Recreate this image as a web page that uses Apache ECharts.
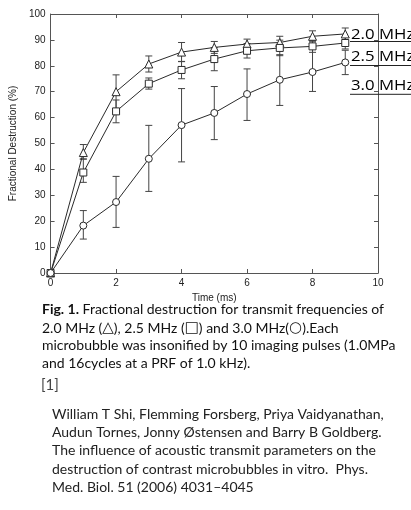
<!DOCTYPE html>
<html><head><meta charset="utf-8">
<script src="https://cdn.jsdelivr.net/npm/echarts@6/dist/echarts.min.js"></script>
<style>html,body{margin:0;padding:0;background:#fff}#c{width:411px;height:510px}</style>
</head><body><div id="c"></div>
<script>
const times = [0,1,2,3,4,5,6,7,8,9];
const xTicks = [0,2,4,6,8,10];
const yTicks = [0,10,20,30,40,50,60,70,80,90,100];
const seriesNames = ['2.0 MHz','2.5 MHz','3.0 MHz'];
const tri   = [0,46.5,70,80.7,85.3,87.1,88.4,89,91.4,92.3];
const triLo = [0,44,63.5,77.6,81.6,84.8,86.5,86.6,89.3,90];
const triHi = [0,49.6,76.5,83.8,89,89.4,90.3,91.4,93.5,94.6];
const sq    = [0,38.8,62.4,73.1,78.4,82.6,85.8,86.9,87.5,88.8];
const sqLo  = [0,35,58,71,75,78.1,83,83.9,85.2,86.5];
const sqHi  = [0,44,66.8,75.3,81.7,87,88.6,89.9,89.8,91.1];
const circ  = [0,18.3,27.4,44.1,57.1,61.8,69.1,74.6,77.6,81.3];
const circLo= [0,13.1,17.6,31.5,42.9,51.5,58.9,64.7,70.1,76.6];
const circHi= [0,24.1,37.3,57,71.2,72,78.8,84.3,87.1,86];
const xTitle = 'Time (ms)';
const yTitle = 'Fractional Destruction (%)';
const captionLines = [
  ['Fig. 1.', ' Fractional destruction for transmit frequencies of'],
  ['', '2.0 MHz ({s|\u25B3}), 2.5 MHz ({s|\u25A1}) and 3.0 MHz({s|\u25CB}).Each'],
  ['', 'microbubble was insonified by 10 imaging pulses (1.0MPa'],
  ['', 'and 16cycles at a PRF of 1.0 kHz).']
];
const refMark = '[1]';
const refLines = [
  'William T Shi, Flemming Forsberg, Priya Vaidyanathan,',
  'Audun Tornes, Jonny \u00D8stensen and Barry B Goldberg.',
  'The influence of acoustic transmit parameters on the',
  'destruction of contrast microbubbles in vitro.  Phys.',
  'Med. Biol. 51 (2006) 4031\u20134045'
];

const chart = echarts.init(document.getElementById('c'));
const lineCol = '#2a2a2a';
const axisFont = 'Liberation Sans';
const textFont = 'Lato';

function pairs(v){ return times.map((t,i)=>[t, v[i]]); }
function errData(lo,hi){ return times.map((t,i)=>[t, lo[i], hi[i]]); }
function errSeries(lo,hi){
  return {
    type:'custom', data: errData(lo,hi), z:1, silent:true,
    renderItem(params, api){
      const x = api.value(0);
      const p1 = api.coord([x, api.value(1)]);
      const p2 = api.coord([x, api.value(2)]);
      const w = 3.5;
      const st = {stroke:'#444', lineWidth:1};
      return {type:'group', children:[
        {type:'line', shape:{x1:p1[0],y1:p1[1],x2:p2[0],y2:p2[1]}, style:st},
        {type:'line', shape:{x1:p1[0]-w,y1:p1[1],x2:p1[0]+w,y2:p1[1]}, style:st},
        {type:'line', shape:{x1:p2[0]-w,y1:p2[1],x2:p2[0]+w,y2:p2[1]}, style:st}
      ]};
    }
  };
}
function lineSeries(name, v, sym, size){
  return {
    name, type:'line', data: pairs(v), symbol: sym, symbolSize: size, z:3,
    showAllSymbol:true,
    lineStyle:{color:lineCol, width:1},
    itemStyle:{color:'#fff', borderColor:lineCol, borderWidth:1}
  };
}
const axisCommon = {
  axisLine:{show:true, onZero:false, lineStyle:{color:'#555', width:1}},
  axisTick:{show:true, inside:true, length:4, lineStyle:{color:'#555'}},
  splitLine:{show:false}
};

const graphics = [];
// right-side labels
const labelMid = [35, 57.5, 86];
const underY = [41.5, 65.5, 94.3];
seriesNames.forEach((n,i)=>{
  graphics.push({type:'text', x:351, y:labelMid[i], scaleX:1.2, z:10,
    style:{text:n, font:'14px "Open Sans"', fill:'#000', textVerticalAlign:'middle'}});
  graphics.push({type:'line', z:10, shape:{x1:350,y1:underY[i],x2:411,y2:underY[i]},
    style:{stroke:'#222', lineWidth:1}});
});
// caption
const capTop = [302.5, 320.5, 338.5, 356.5];
captionLines.forEach((l,i)=>{
  graphics.push({type:'text', left:42, top:capTop[i],
    style:{text: l[0] ? '{b|'+l[0]+'}'+l[1] : l[1], font:'14px '+textFont, fill:'#111',
      rich:{b:{fontWeight:'bold', fontSize:14, fontFamily:textFont, fill:'#111'},
            s:{fontSize:15, fontFamily:'DejaVu Sans', fill:'#111'}}}});
});
graphics.push({type:'text', left:41, top:378, style:{text:refMark, font:'15px '+textFont, fill:'#444'}});
refLines.forEach((l,i)=>{
  graphics.push({type:'text', left:52, top:407.5+i*18.2,
    style:{text:l, font:'14px '+textFont, fill:'#222'}});
});

chart.setOption({
  backgroundColor:'#fff',
  animation:false,
  grid:{left:45, right:33, top:14, bottom:237, show:false},
  xAxis:[{
    type:'value', min:0, max:10, interval:2,
    name:xTitle, nameLocation:'middle', nameGap:13,
    nameTextStyle:{fontFamily:axisFont, fontSize:10, color:'#222'},
    axisLabel:{fontFamily:axisFont, fontSize:10, color:'#222', margin:5},
    ...axisCommon
  },{
    type:'value', min:0, max:10, interval:2, position:'top',
    axisLabel:{show:false}, ...axisCommon
  }],
  yAxis:[{
    type:'value', min:0, max:100, interval:10,
    name:yTitle, nameLocation:'middle', nameGap:26.5,
    nameTextStyle:{fontFamily:axisFont, fontSize:10, color:'#222'},
    axisLabel:{fontFamily:axisFont, fontSize:10, color:'#222', margin:5},
    ...axisCommon
  },{
    type:'value', min:0, max:100, interval:10, position:'right',
    axisLabel:{show:false}, ...axisCommon
  }],
  series:[
    errSeries(triLo,triHi), errSeries(sqLo,sqHi), errSeries(circLo,circHi),
    lineSeries(seriesNames[0], tri, 'triangle', 8),
    lineSeries(seriesNames[1], sq, 'rect', 7),
    lineSeries(seriesNames[2], circ, 'circle', 7)
  ],
  graphic: graphics
});
</script></body></html>
